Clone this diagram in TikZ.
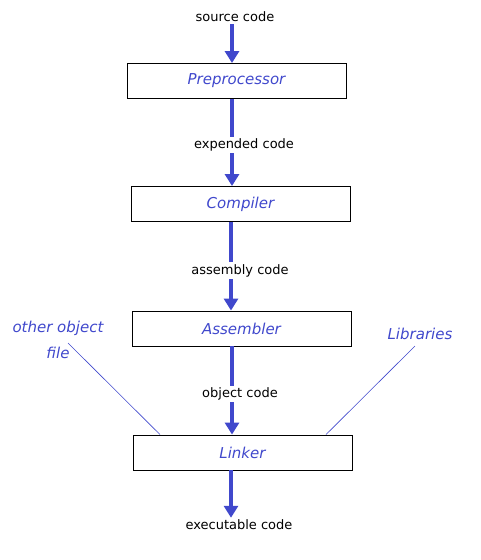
\documentclass[tikz,border=0pt]{standalone}
\usepackage{fontspec}
\setmainfont{DejaVu Sans}
\newfontfamily\handfont{DejaVu Sans}
\usetikzlibrary{arrows.meta, positioning}

\definecolor{flowblue}{RGB}{64,72,204}

\begin{document}
\begin{tikzpicture}[
        x=1pt, y=-1pt,
        stage/.style={rectangle, draw=black, line width=0.9pt, minimum width=219pt, minimum height=35pt, inner sep=0pt, font=\handfont\itshape\fontsize{15}{17}\selectfont, text=flowblue},
        flow/.style={-{Triangle[width=14pt, length=12pt]}, line width=4pt, draw=flowblue},
        lbl/.style={font=\fontsize{13}{15}\selectfont, fill=white, inner sep=2pt},
        note/.style={font=\handfont\itshape\fontsize{15}{26}\selectfont, text=flowblue, align=center},
        pointer/.style={draw=flowblue, line width=0.6pt}
    ]
    \useasboundingbox (0,0) rectangle (481,560);

    % Stages
    \node[stage] (pre) at (236.5,81) {Preprocessor};
    \node[stage] (comp) at (240.5,204) {Compiler};
    \node[stage] (asm) at (241.5,328.5) {Assembler};
    \node[stage] (link) at (242.5,452.5) {Linker};

    % In and out
    \node[lbl] (src) at (235,17) {source code};
    \node[lbl] (exe) at (239,525) {executable code};

    % Flow
    \draw[flow] (src.south -| pre.north) ++(-4.5,0) coordinate (s0) -- (s0 |- pre.north);
    \draw[flow] ([xshift=-4.5pt]pre.south) -- node[lbl, pos=0.53, xshift=12pt] {expended code} ([xshift=-4.5pt]pre.south |- comp.north);
    \draw[flow] ([xshift=-9.5pt]comp.south) -- node[lbl, pos=0.55, xshift=9pt] {assembly code} ([xshift=-9.5pt]comp.south |- asm.north);
    \draw[flow] ([xshift=-9.5pt]asm.south) -- node[lbl, pos=0.54, xshift=8pt] {object code} ([xshift=-9.5pt]asm.south |- link.north);
    \draw[flow] ([xshift=-11.5pt]link.south) -- ([xshift=-11.5pt]link.south |- exe.north);

    % Extra inputs
    \node[note] (other) at (58,340) {other object\\file};
    \node[note] (libs) at (420,334) {Libraries};
    \draw[pointer] (68,343) coordinate (o1) -- ([xshift=-82.5pt]link.north);
    \draw[pointer] (415,346) coordinate (l1) -- ([xshift=83.5pt]link.north);

\end{tikzpicture}
\end{document}
